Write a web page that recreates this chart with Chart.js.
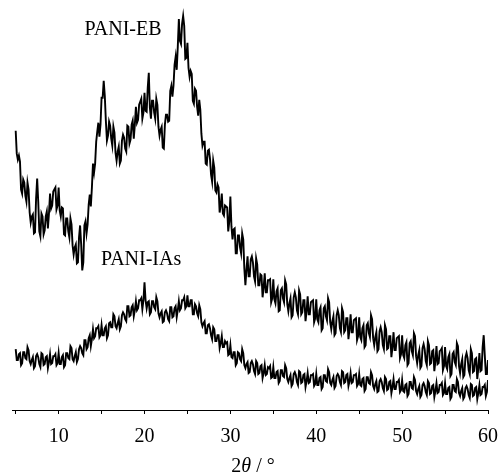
<!DOCTYPE html>
<html>
<head>
<meta charset="utf-8">
<script src="https://cdn.jsdelivr.net/npm/chart.js@4/dist/chart.umd.min.js"></script>
<style>
    body { margin: 0; background: #fff; overflow: hidden; }
    #wrap { position: relative; width: 500px; height: 474px; }
    #axis-title {
        position: absolute; left: 3px; top: 455px; width: 500px;
        text-align: center; font: 20px "Liberation Serif", serif; line-height: 20px; color: #000;
    }
</style>
</head>
<body>
<div id="wrap">
    <canvas id="xrd"></canvas>
    <div id="axis-title">2<i>θ</i> / °</div>
</div>
<script>
// scan: 2theta from 5 to 60 deg, 0.125 deg step
const scanStart = 5;
const scanStep = 0.125;

// PANI-EB intensity (a.u.)
const ebIntensity = [
    280,257, 251,255, 249,221, 217,231, 228,215, 209,228, 221,198, 188,194, 196,177, 178,212,
    232,209, 179,174, 197,194, 176,180, 194,199, 182,197, 217,202, 205,219, 221,223, 201,205,
    223,200, 194,203, 202,176, 175,192, 192,179, 173,192, 186,165, 156,163, 166,147, 148,173,
    185,166, 140,148, 185,189, 177,186, 206,216, 204,223, 247,238, 247,269, 279,288, 274,286,
    313,313, 330,315, 290,270, 275,289, 285,272, 265,284, 278,258, 250,259, 264,247, 250,270,
    276,273, 262,259, 285,284, 267,271, 286,290, 272,286, 304,288, 291,306, 309,312, 292,298,
    318,300, 299,323, 338,303, 292,310, 310,298, 292,312, 306,284, 275,281, 284,263, 262,286,
    296,296, 289,290, 320,325, 314,325, 346,354, 341,364, 392,370, 367,387, 395,385, 352,353,
    368,343, 334,340, 337,310, 307,322, 320,304, 295,311, 301,277, 265,269, 269,247, 246,260,
    261,252, 236,229, 250,243, 220,218, 226,223, 198,205, 217,197, 195,205, 204,203, 179,189,
    214,184, 171,181, 182,157, 157,175, 175,163, 157,177, 171,142, 125,141, 154,134, 134,151,
    154,148, 134,129, 152,146, 125,125, 136,135, 113,123, 137,118, 118,130, 130,131, 108,112,
    131,111, 107,119, 122,99, 100,120, 122,112, 108,130, 126,106, 99,107, 112,93, 95,113,
    118,113, 100,96, 120,116, 96,98, 110,110, 89,99, 114,96, 96,108, 109,110, 88,92,
    111,91, 88,100, 103,80, 82,102, 104,94, 90,112, 108,88, 81,89, 94,75, 77,95,
    100,95, 82,78, 102,98, 78,80, 92,92, 71,81, 96,78, 78,90, 91,92, 70,74,
    93,73, 70,82, 85,63, 65,85, 87,77, 73,95, 91,72, 65,73, 78,59, 61,79,
    83,78, 65,61, 85,81, 61,62, 74,74, 53,63, 78,60, 60,72, 73,74, 52,56,
    75,55, 52,65, 68,45, 47,67, 69,59, 55,77, 74,54, 47,55, 60,42, 44,62,
    66,61, 49,45, 69,65, 46,47, 59,60, 39,49, 64,46, 47,59, 60,62, 40,44,
    63,44, 41,53, 56,34, 36,56, 58,48, 45,67, 64,44, 37,46, 51,33, 35,53,
    57,52, 40,36, 61,57, 38,39, 51,52, 31,42, 57,39, 40,63, 75,55, 36,36,
    50
];

// PANI-IAs intensity (a.u.)
const iasIntensity = [
    61,50, 50,56, 57,45, 47,58, 58,52, 51,63, 60,49, 46,50, 53,42, 44,54,
    56,53, 46,43, 57,56, 45,46, 53,54, 42,48, 56,46, 47,54, 54,56, 45,47,
    57,46, 46,53, 55,43, 45,57, 57,52, 51,64, 62,51, 49,54, 58,48, 51,61,
    64,62, 57,55, 70,70, 61,63, 72,75, 64,71, 81,72, 74,82, 82,84, 73,75,
    85,75, 75,82, 84,72, 75,87, 88,83, 83,96, 94,84, 82,87, 91,81, 84,95,
    98,96, 91,89, 104,104, 94,95, 103,105, 94,100, 109,100, 102,110, 110,112, 101,110,
    128,110, 102,108, 109,96, 98,109, 109,103, 101,113, 109,97, 93,97, 99,88, 89,98,
    100,97, 91,89, 103,103, 93,94, 102,104, 93,100, 109,100, 102,110, 110,113, 102,104,
    115,104, 104,110, 110,96, 96,106, 104,97, 94,105, 101,88, 84,87, 89,77, 77,85,
    86,82, 75,71, 83,81, 69,69, 75,75, 62,67, 74,63, 63,69, 67,68, 55,56,
    65,53, 52,58, 58,45, 47,58, 57,51, 49,61, 57,45, 42,46, 48,37, 38,47,
    49,46, 39,36, 49,47, 36,37, 44,45, 32,37, 45,35, 36,43, 42,44, 32,33,
    43,32, 32,38, 39,27, 29,40, 40,34, 33,45, 42,31, 28,32, 35,24, 26,36,
    38,35, 28,25, 39,38, 27,28, 35,36, 23,29, 37,27, 28,35, 35,36, 24,26,
    36,25, 25,32, 33,21, 23,35, 35,29, 28,41, 38,27, 25,30, 33,22, 24,34,
    36,34, 28,25, 39,38, 27,28, 35,36, 24,29, 37,27, 28,35, 35,36, 24,26,
    36,25, 24,31, 32,19, 21,33, 33,27, 26,38, 35,24, 21,26, 29,18, 19,29,
    31,28, 22,19, 33,31, 20,21, 28,29, 17,23, 31,21, 21,28, 28,30, 18,20,
    30,19, 18,25, 26,14, 16,28, 28,22, 21,33, 30,19, 16,21, 24,13, 15,25,
    27,24, 18,15, 29,27, 16,17, 24,25, 13,19, 27,17, 18,25, 25,27, 15,17,
    27,16, 16,22, 23,11, 13,25, 25,19, 18,31, 28,17, 14,19, 22,11, 13,22,
    24,21, 15,12, 26,25, 14,15, 22,23, 11,17, 25,15, 16,23, 23,25, 14,18,
    30
];

const seriesNames = ['PANI-EB', 'PANI-IAs'];
const xTickLabels = [10, 20, 30, 40, 50, 60];

const twoTheta = ebIntensity.map((_, i) => scanStart + i * scanStep);
const toPoints = arr => arr.map((v, i) => ({ x: twoTheta[i], y: v }));

// where the curve names sit (data coords)
const nameSpots = [
    { text: seriesNames[0], x: 17.5, y: 381 },
    { text: seriesNames[1], x: 19.6, y: 151 }
];

const curveNames = {
    id: 'curveNames',
    afterDatasetsDraw(chart) {
        const ctx = chart.ctx;
        const xs = chart.scales.x, ys = chart.scales.y;
        ctx.save();
        ctx.fillStyle = '#000';
        ctx.font = '20px "Liberation Serif", serif';
        ctx.textAlign = 'center';
        ctx.textBaseline = 'middle';
        for (let s of nameSpots) {
            ctx.fillText(s.text, xs.getPixelForValue(s.x), ys.getPixelForValue(s.y));
        }
        ctx.restore();
    }
};

const lineStyle = {
    borderColor: '#000',
    borderWidth: 1.9,
    pointRadius: 0,
    tension: 0,
    fill: false
};

new Chart(document.getElementById('xrd').getContext('2d'), {
    type: 'line',
    data: {
        datasets: [
            { label: seriesNames[0], data: toPoints(ebIntensity), ...lineStyle },
            { label: seriesNames[1], data: toPoints(iasIntensity), ...lineStyle }
        ]
    },
    options: {
        responsive: true,
        maintainAspectRatio: false,
        animation: false,
        events: [],
        layout: { padding: { left: 12, right: 12, top: 0, bottom: 14 } },
        plugins: { legend: { display: false }, tooltip: { enabled: false } },
        scales: {
            x: {
                type: 'linear',
                min: 4.57,
                max: 60,
                border: { display: true, color: '#000', width: 1 },
                grid: { drawOnChartArea: false, drawTicks: true, tickLength: 4, color: '#000' },
                ticks: {
                    stepSize: 5,
                    includeBounds: false,
                    autoSkip: false,
                    maxRotation: 0,
                    padding: 11,
                    color: '#000',
                    font: { family: '"Liberation Serif", serif', size: 20 },
                    callback: v => xTickLabels.includes(v) ? String(v) : ''
                },
                // don't let the "60" label push the axis in
                afterFit: s => { s.paddingLeft = 0; s.paddingRight = 0; }
            },
            y: {
                display: false,
                min: 0,
                max: 411
            }
        }
    },
    plugins: [curveNames]
});
</script>
</body>
</html>
